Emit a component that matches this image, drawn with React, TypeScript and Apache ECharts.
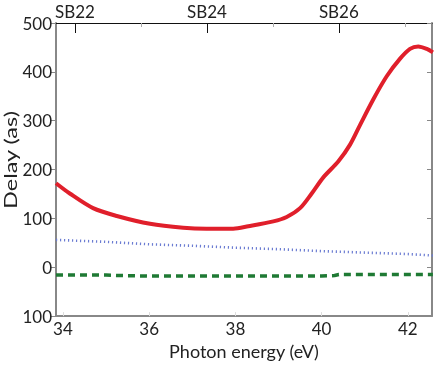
import React, { useEffect, useRef } from "react";
import * as echarts from "echarts";

const redEnergy = [33.84, 34.16, 34.7, 35.25, 36.02, 36.79, 37.33, 37.95, 38.3, 38.88, 39.19, 39.5, 39.77, 40.04, 40.39, 40.66, 40.89, 41.2, 41.51, 41.82, 42.05, 42.24, 42.44, 42.58];
const redDelay = [172, 151, 121, 105, 89, 81, 79, 79, 84, 94, 103, 121, 151, 184, 217, 251, 291, 344, 391, 427, 447, 452, 447, 440];

const blueEnergy = [33.84, 35, 36, 37, 38, 39, 40, 41, 42, 42.58];
const blueDelay = [56, 52, 47, 44, 40, 37, 33, 30, 27, 24];

const greenEnergy = [33.84, 35, 35.3, 36, 37, 38, 39, 40, 40.3, 40.4, 41, 42, 42.58];
const greenDelay = [-16, -16, -17, -18, -18, -18, -18, -18, -17, -15, -15, -15, -15];

const energyTicks = [34, 36, 38, 40, 42];
const sbLabels = ["SB22", "SB24", "SB26"];
const sbMajorEnergy = [34.28, 37.34, 40.4];
const sbMinorEnergy = [35.81, 38.87, 41.93];

const X_MIN = 33.84;
const X_MAX = 42.56;
const FONT = "Lato";

export default function App() {
  const ref = useRef<HTMLDivElement>(null);
  useEffect(() => {
    if (!ref.current) return;
    const chart = echarts.init(ref.current, null, { renderer: "svg" });
    const pairs = (xs: number[], ys: number[]) => xs.map((x, i) => [x, ys[i]]);
    chart.setOption({
      animation: false,
      grid: { left: 56, right: 3, top: 23, bottom: 42 },
      graphic: [
        {
          type: "text",
          x: 10,
          y: 160,
          rotation: Math.PI / 2,
          scaleX: 1.38,
          style: {
            text: "Delay (as)",
            fontFamily: FONT,
            fontSize: 17,
            fill: "#222",
            textAlign: "center",
            textVerticalAlign: "middle",
          },
        },
      ],
      xAxis: [
        {
          type: "value",
          position: "bottom",
          min: X_MIN,
          max: X_MAX,
          name: "Photon energy (eV)",
          nameLocation: "middle",
          nameGap: 23,
          nameTextStyle: { fontFamily: FONT, fontSize: 18, color: "#222" },
          axisLine: { show: true, onZero: false, lineStyle: { color: "#888", width: 2 } },
          axisTick: { show: true, inside: true, length: 4, customValues: energyTicks, lineStyle: { color: "#ddd" } },
          axisLabel: { customValues: energyTicks, fontFamily: FONT, fontSize: 17, color: "#222", margin: 4 },
          splitLine: { show: false },
        },
        {
          type: "value",
          position: "top",
          min: X_MIN,
          max: X_MAX,
          axisLine: { show: true, onZero: false, lineStyle: { color: "#111", width: 1 } },
          axisTick: { show: true, inside: true, length: 10, customValues: sbMajorEnergy, lineStyle: { color: "#111" } },
          axisLabel: {
            customValues: sbMajorEnergy,
            formatter: (v: number) => {
              const i = sbMajorEnergy.findIndex((e) => Math.abs(e - v) < 1e-6);
              return i >= 0 ? sbLabels[i] : "";
            },
            fontFamily: FONT,
            fontSize: 17,
            color: "#222",
            margin: 3,
          },
          splitLine: { show: false },
        },
        {
          type: "value",
          position: "top",
          min: X_MIN,
          max: X_MAX,
          axisLine: { show: false, onZero: false },
          axisTick: { show: true, inside: true, length: 4, customValues: sbMinorEnergy, lineStyle: { color: "#aaa" } },
          axisLabel: { show: false },
          splitLine: { show: false },
        },
      ],
      yAxis: [
        {
          type: "value",
          position: "left",
          min: -100,
          max: 500,
          interval: 100,
          axisLine: { show: true, onZero: false, lineStyle: { color: "#888", width: 2 } },
          axisTick: { show: true, length: 5, lineStyle: { color: "#888" } },
          axisLabel: {
            fontFamily: FONT,
            fontSize: 17,
            color: "#222",
            margin: 4,
            formatter: (v: number) => String(Math.abs(v)),
          },
          splitLine: { show: false },
        },
        {
          type: "value",
          position: "right",
          min: -100,
          max: 500,
          interval: 100,
          axisLine: { show: true, onZero: false, lineStyle: { color: "#888", width: 2 } },
          axisTick: { show: true, inside: true, length: 5, lineStyle: { color: "#888" } },
          axisLabel: { show: false },
          splitLine: { show: false },
        },
      ],
      series: [
        {
          type: "line",
          data: pairs(greenEnergy, greenDelay),
          showSymbol: false,
          lineStyle: { color: "#1f7a34", width: 3.5, type: [7, 5] },
        },
        {
          type: "line",
          data: pairs(blueEnergy, blueDelay),
          showSymbol: false,
          lineStyle: { color: "#6b7cd2", width: 2.6, type: [1.2, 2.8] },
        },
        {
          type: "line",
          data: pairs(redEnergy, redDelay),
          showSymbol: false,
          smooth: 0.3,
          lineStyle: { color: "#e01f2b", width: 4 },
        },
      ],
    });
    return () => chart.dispose();
  }, []);
  return <div ref={ref} style={{ width: 435, height: 365, position: "fixed", left: 0, top: 0 }} />;
}
